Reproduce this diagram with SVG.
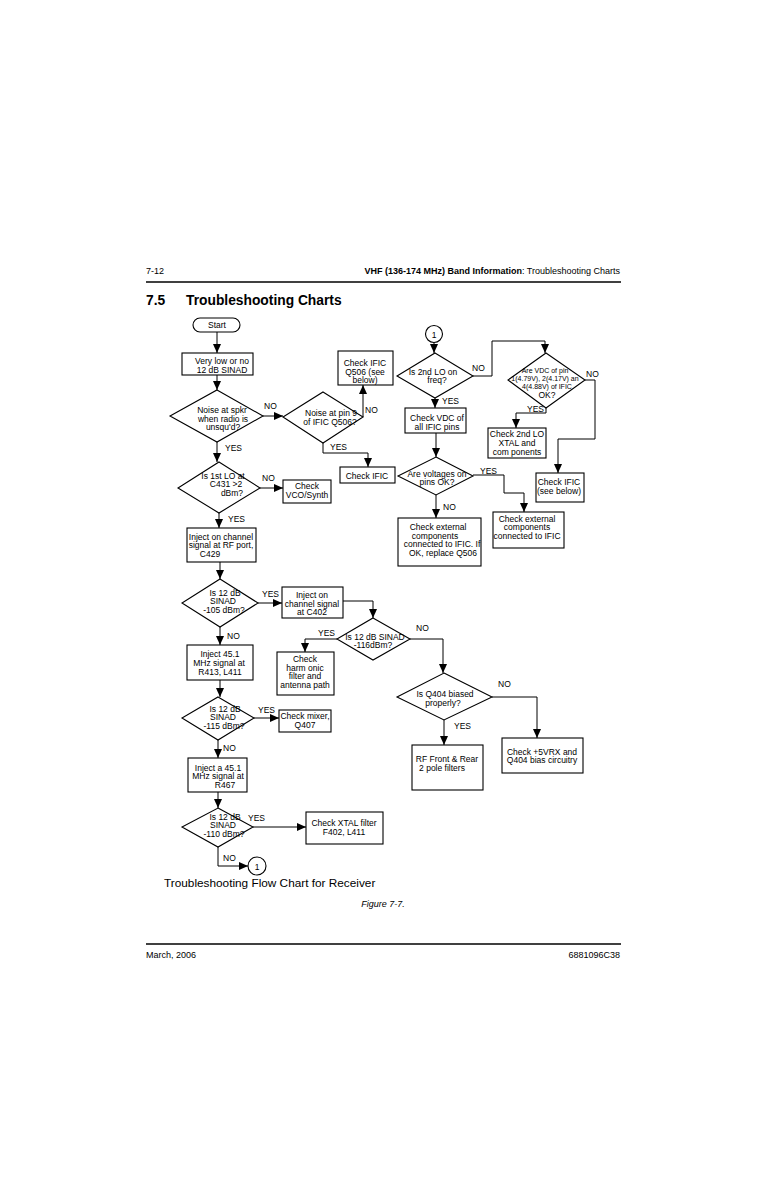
<svg xmlns="http://www.w3.org/2000/svg" width="776" height="1199" viewBox="0 0 776 1199">
<style>
text{font-family:"Liberation Sans",Arial,sans-serif;fill:#000}
.t{font-size:8.5px;text-anchor:middle}
.s{font-size:7px;text-anchor:middle}
.l{font-size:8.5px}
.n rect,.n polygon,.n circle{fill:#fff;stroke:#000;stroke-width:1.1}
#connectors path{fill:none;stroke:#000;stroke-width:1;marker-end:url(#ah)}
</style>
<defs>
<marker id="ah" markerUnits="userSpaceOnUse" markerWidth="9" markerHeight="8" refX="9" refY="4" orient="auto">
<path d="M0,0 L9,4 L0,8 z" fill="#000"/>
</marker>
</defs>
<rect width="776" height="1199" fill="#fff"/>
<!-- page header -->
<text x="146" y="274" style="font-size:9px">7-12</text>
<text x="620" y="274" style="font-size:9px;text-anchor:end"><tspan font-weight="bold">VHF (136-174 MHz) Band Information</tspan>: Troubleshooting Charts</text>
<line x1="146" y1="282" x2="621" y2="282" stroke="#000" stroke-width="1.6"/>
<text x="146" y="305" style="font-size:13.8px;font-weight:bold">7.5</text>
<text x="186" y="305" style="font-size:13.8px;font-weight:bold">Troubleshooting Charts</text>

<g id="connectors">
<path d="M217,332 V353"/>
<path d="M217,375 V390"/>
<path d="M263,416 H283"/>
<path d="M363,417 V385"/>
<path d="M323,443 V453 H368 V467"/>
<path d="M217,442 V462"/>
<path d="M260,488 H283"/>
<path d="M219,513 V528"/>
<path d="M220,562 V579"/>
<path d="M258,603 H282"/>
<path d="M343,601 H373 V618"/>
<path d="M337,639 H305 V652"/>
<path d="M410,639 H443 V673"/>
<path d="M492,697 H537 V738"/>
<path d="M444,720 V745"/>
<path d="M220,627 V645"/>
<path d="M220,680 V697"/>
<path d="M254,718 H279"/>
<path d="M218,740 V758"/>
<path d="M218,792 V808"/>
<path d="M253,827 H306"/>
<path d="M218,847 V866 H248"/>
<path d="M434,343 V353"/>
<path d="M473,376 H492 V341 H545 V353"/>
<path d="M546,408 V413 H516 V428"/>
<path d="M585,380 H595 V439 H558 V473"/>
<path d="M435,398 V408"/>
<path d="M436,433 V457"/>
<path d="M473,475 H504 V493 H524 V512"/>
<path d="M436,495 V518"/>
</g>

<g id="labels" class="l">
<text x="264" y="409">NO</text>
<text x="365" y="413">NO</text>
<text x="330" y="450">YES</text>
<text x="225" y="451">YES</text>
<text x="262" y="481">NO</text>
<text x="228" y="522">YES</text>
<text x="262" y="597">YES</text>
<text x="227" y="639">NO</text>
<text x="318" y="636">YES</text>
<text x="416" y="631">NO</text>
<text x="498" y="687">NO</text>
<text x="454" y="729">YES</text>
<text x="258" y="713">YES</text>
<text x="223" y="751">NO</text>
<text x="248" y="821">YES</text>
<text x="223" y="861">NO</text>
<text x="472" y="371">NO</text>
<text x="442" y="404">YES</text>
<text x="586" y="377">NO</text>
<text x="527" y="412">YES</text>
<text x="480" y="474">YES</text>
<text x="443" y="510">NO</text>
</g>

<g id="start" class="n"><rect x="193" y="318" width="47" height="14" rx="7"/><text class="t" x="217" y="328">Start</text></g>
<g id="very-low" class="n"><rect x="182" y="353" width="71" height="22"/><text class="t" x="222" y="364">Very low or no</text><text class="t" x="222" y="372.5">12 dB SINAD</text></g>
<g id="d-noise-spkr" class="n"><polygon points="217,390 263,416 217,442 170,416"/><text class="t" x="222" y="413">Noise at spkr</text><text class="t" x="223" y="421.5">when radio is</text><text class="t" x="223" y="430">unsqu'd?</text></g>
<g id="d-noise-pin9" class="n"><polygon points="323,392 363,417 323,443 283,417"/><text class="t" x="331" y="416">Noise at pin 9</text><text class="t" x="330" y="424.5">of IFIC Q506?</text></g>
<g id="check-ific-q506" class="n"><rect x="338" y="351" width="55" height="34"/><text class="t" x="365" y="366">Check IFIC</text><text class="t" x="365" y="374.5">Q506 (see</text><text class="t" x="365" y="383">below)</text></g>
<g id="check-ific" class="n"><rect x="340" y="467" width="55" height="16"/><text class="t" x="367" y="479">Check IFIC</text></g>
<g id="d-1st-lo" class="n"><polygon points="219,462 260,488 219,513 178,488"/><text class="t" x="223" y="478.5">Is 1st LO at</text><text class="t" x="226" y="487">C431 &gt;2</text><text class="t" x="232" y="495.5">dBm?</text></g>
<g id="check-vco" class="n"><rect x="283" y="480" width="48" height="23"/><text class="t" x="307" y="488.5">Check</text><text class="t" x="307" y="497.5">VCO/Synth</text></g>
<g id="inject-rf" class="n"><rect x="187" y="528" width="69" height="34"/><text class="t" x="221" y="539.5">Inject on channel</text><text class="t" x="221" y="548">signal at RF port,</text><text class="t" x="210" y="556.5">C429</text></g>
<g id="d-105" class="n"><polygon points="220,579 258,603 220,627 182,603"/><text class="t" x="225" y="595.5">Is 12 dB</text><text class="t" x="223" y="604">SINAD</text><text class="t" x="224" y="612.5">-105 dBm?</text></g>
<g id="inject-c402" class="n"><rect x="282" y="587" width="61" height="31"/><text class="t" x="312" y="598">Inject on</text><text class="t" x="312" y="606.5">channel signal</text><text class="t" x="312" y="615">at C402</text></g>
<g id="d-116" class="n"><polygon points="373,618 410,639 373,660 337,639"/><text class="t" x="375" y="639.5">Is 12 dB SINAD</text><text class="t" x="373" y="648">-116dBm?</text></g>
<g id="check-harmonic" class="n"><rect x="277" y="652" width="57" height="43"/><text class="t" x="305" y="662">Check</text><text class="t" x="305" y="670.5">harm onic</text><text class="t" x="305" y="679">filter and</text><text class="t" x="305" y="687.5">antenna path</text></g>
<g id="d-q404" class="n"><polygon points="444,673 492,697 444,720 397,697"/><text class="t" x="445" y="697">Is Q404 biased</text><text class="t" x="443" y="706">properly?</text></g>
<g id="check-5vrx" class="n"><rect x="502" y="738" width="81" height="35"/><text class="t" x="542" y="754.5">Check +5VRX and</text><text class="t" x="542" y="763">Q404 bias circuitry</text></g>
<g id="rf-front" class="n"><rect x="412" y="745" width="71" height="45"/><text class="t" x="447" y="762">RF Front &amp; Rear</text><text class="t" x="442" y="770.5">2 pole filters</text></g>
<g id="inject-r413" class="n"><rect x="187" y="645" width="66" height="35"/><text class="t" x="220" y="657">Inject 45.1</text><text class="t" x="219" y="666">MHz signal at</text><text class="t" x="220" y="675">R413, L411</text></g>
<g id="d-115" class="n"><polygon points="218,697 254,718 218,740 182,718"/><text class="t" x="225" y="711.5">Is 12 dB</text><text class="t" x="223" y="720">SINAD</text><text class="t" x="224" y="728.5">-115 dBm?</text></g>
<g id="check-mixer" class="n"><rect x="279" y="710" width="52" height="22"/><text class="t" x="305" y="719">Check mixer,</text><text class="t" x="305" y="727.5">Q407</text></g>
<g id="inject-r467" class="n"><rect x="188" y="758" width="59" height="34"/><text class="t" x="218" y="770.5">Inject a 45.1</text><text class="t" x="218" y="779">MHz signal at</text><text class="t" x="225" y="787.5">R467</text></g>
<g id="d-110" class="n"><polygon points="218,808 253,827 218,847 182,827"/><text class="t" x="225" y="819.5">Is 12 dB</text><text class="t" x="223" y="828">SINAD</text><text class="t" x="224" y="836.5">-110 dBm?</text></g>
<g id="check-xtal" class="n"><rect x="306" y="812" width="77" height="32"/><text class="t" x="344" y="826">Check XTAL filter</text><text class="t" x="344" y="835">F402, L411</text></g>
<g id="conn-1-out" class="n"><circle cx="257" cy="866" r="9"/><text class="t" x="257" y="869.5">1</text></g>

<g id="conn-1-in" class="n"><circle cx="434" cy="334" r="8.5"/><text class="t" x="434" y="337.5">1</text></g>
<g id="d-2nd-lo" class="n"><polygon points="435,353 473,376 435,398 397,376"/><text class="t" x="433" y="374.5">Is 2nd LO on</text><text class="t" x="437" y="383">freq?</text></g>
<g id="d-vdc-pins" class="n"><polygon points="546,353 585,380 546,408 508,380"/><text class="s" x="545" y="373">Are VDC of pin</text><text class="s" x="545" y="381">1(4.79V), 2(4.17V) an</text><text class="s" x="547" y="389">4(4.88V) of IFIC</text><text class="t" x="547" y="398">OK?</text></g>
<g id="check-2nd-lo" class="n"><rect x="488" y="428" width="58" height="30"/><text class="t" x="517" y="437">Check 2nd LO</text><text class="t" x="517" y="446">XTAL and</text><text class="t" x="517" y="455">com ponents</text></g>
<g id="check-ific-below" class="n"><rect x="536" y="473" width="48" height="29"/><text class="t" x="559" y="485">Check IFIC</text><text class="t" x="559" y="493.5">(see below)</text></g>
<g id="check-vdc" class="n"><rect x="405" y="408" width="61" height="25"/><text class="t" x="437" y="421">Check VDC of</text><text class="t" x="437" y="430">all IFIC pins</text></g>
<g id="d-voltages" class="n"><polygon points="436,457 473,476 436,495 398,476"/><text class="t" x="437" y="476.5">Are voltages on</text><text class="t" x="437" y="485">pins OK?</text></g>
<g id="check-ext-ific" class="n"><rect x="493" y="512" width="71" height="36"/><text class="t" x="527" y="521.5">Check external</text><text class="t" x="527" y="530">components</text><text class="t" x="527" y="538.5">connected to IFIC</text></g>
<g id="check-ext-q506" class="n"><rect x="398" y="518" width="83" height="48"/><text class="t" x="438" y="530">Check external</text><text class="t" x="435" y="538.5">components</text><text class="t" x="442" y="547">connected to IFIC. If</text><text class="t" x="443" y="555.5">OK, replace Q506</text></g>

<text x="164" y="887" style="font-size:11.8px">Troubleshooting Flow Chart for Receiver</text>
<text x="383" y="907" style="font-size:9px;font-style:italic;text-anchor:middle">Figure 7-7.</text>
<line x1="146" y1="944" x2="621" y2="944" stroke="#000" stroke-width="1.6"/>
<text x="146" y="958" style="font-size:9px">March, 2006</text>
<text x="620" y="958" style="font-size:9px;text-anchor:end">6881096C38</text>
</svg>
